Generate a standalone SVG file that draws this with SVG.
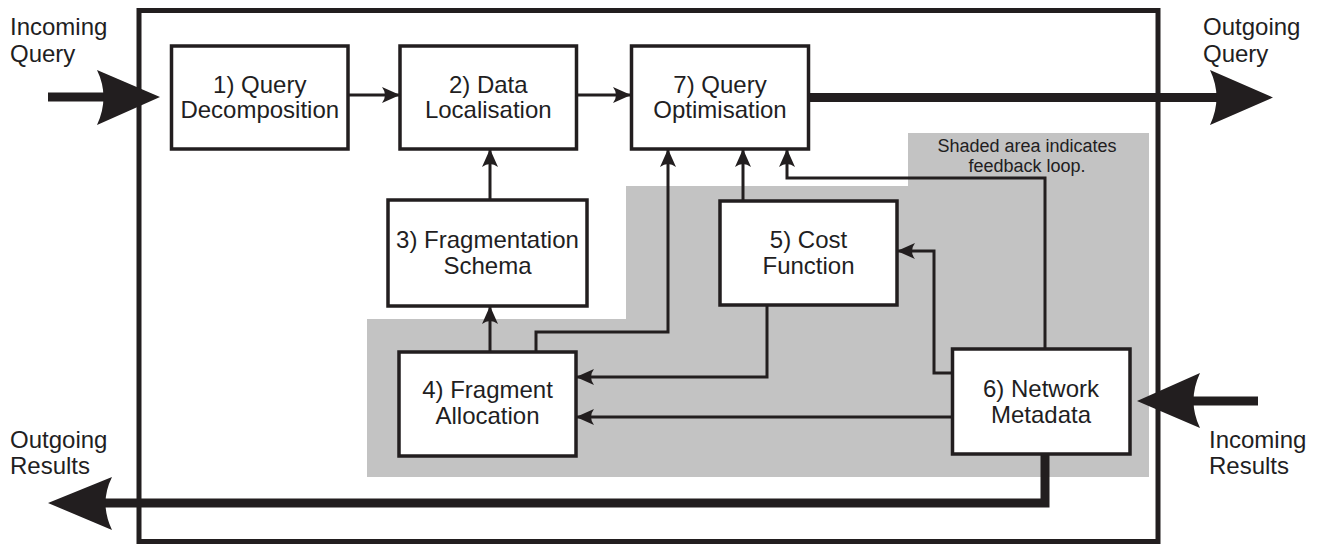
<svg xmlns="http://www.w3.org/2000/svg" width="1323" height="547" viewBox="0 0 1323 547">
<style>
.box{fill:#fff;stroke:#221e1f;stroke-width:3.5}
.ln{fill:none;stroke:#221e1f;stroke-width:3;stroke-linejoin:miter}
.thick{fill:none;stroke:#221e1f;stroke-width:9;stroke-linejoin:miter}
.big{fill:#221e1f;stroke:none}
text{font-family:"Liberation Sans",Arial,Helvetica,sans-serif;fill:#221e1f}
.t{font-size:24px;text-anchor:middle}
.lab{font-size:24px}
.note{font-size:18px;text-anchor:middle}
</style>
<defs>
<marker id="ah" viewBox="-20 -10 22 20" refX="0" refY="0" markerWidth="22" markerHeight="20" markerUnits="userSpaceOnUse" orient="auto">
<path d="M0,0 L-18,-8 Q-12,0 -18,8 Z" fill="#221e1f"/>
</marker>
</defs>
<rect width="1323" height="547" fill="#fff"/>
<g id="shade">
<polygon points="367,319 626,319 626,186 908,186 908,133 1149,133 1149,477 367,477" fill="#c3c3c3"/>
<text class="note" x="1027" y="152">Shaded area indicates</text>
<text class="note" x="1027" y="172">feedback loop.</text>
</g>
<g id="frame">
<rect x="139" y="10.5" width="1019" height="531" fill="none" stroke="#221e1f" stroke-width="5"/>
</g>
<g id="connectors">
<path class="ln" d="M348,95 H400" marker-end="url(#ah)"/>
<path class="ln" d="M576,95 H631" marker-end="url(#ah)"/>
<path class="ln" d="M490,200 V149" marker-end="url(#ah)"/>
<path class="ln" d="M490,352 V306" marker-end="url(#ah)"/>
<path class="ln" d="M536,352 V332 H668 V149" marker-end="url(#ah)"/>
<path class="ln" d="M743,201 V149" marker-end="url(#ah)"/>
<path class="ln" d="M1045,349 V178 H787 V149" marker-end="url(#ah)"/>
<path class="ln" d="M767,305 V377 H576" marker-end="url(#ah)"/>
<path class="ln" d="M952,417 H576" marker-end="url(#ah)"/>
<path class="ln" d="M952,373 H934 V251 H897" marker-end="url(#ah)"/>
<path class="thick" d="M48,97 H130"/>
<path class="big" d="M160,97 L97,70 Q110,97 97,125 Z"/>
<path class="thick" d="M808,97.5 H1240"/>
<path class="big" d="M1273,97.5 L1210,70 Q1223,97.5 1210,125 Z"/>
<path class="thick" d="M1258,401 H1170"/>
<path class="big" d="M1137,401 L1200,373 Q1187,401 1200,428 Z"/>
<path class="thick" d="M1045,454 V503 H80"/>
<path class="big" d="M48,503 L112,477 Q99,503 112,530 Z"/>
</g>
<g id="n1">
<rect class="box" x="171.5" y="46" width="176.5" height="103"/>
<text class="t" x="259.75" y="93">1) Query</text>
<text class="t" x="259.75" y="118">Decomposition</text>
</g>
<g id="n2">
<rect class="box" x="400" y="46" width="176.5" height="103"/>
<text class="t" x="488.25" y="93">2) Data</text>
<text class="t" x="488.25" y="118">Localisation</text>
</g>
<g id="n7">
<rect class="box" x="631.5" y="46" width="177" height="103"/>
<text class="t" x="720" y="93">7) Query</text>
<text class="t" x="720" y="118">Optimisation</text>
</g>
<g id="n3">
<rect class="box" x="388" y="200" width="199" height="106"/>
<text class="t" x="487.5" y="248">3) Fragmentation</text>
<text class="t" x="487.5" y="274">Schema</text>
</g>
<g id="n5">
<rect class="box" x="720" y="201" width="177" height="104"/>
<text class="t" x="808.5" y="248">5) Cost</text>
<text class="t" x="808.5" y="274">Function</text>
</g>
<g id="n4">
<rect class="box" x="399" y="352" width="177" height="104"/>
<text class="t" x="487.5" y="398">4) Fragment</text>
<text class="t" x="487.5" y="424">Allocation</text>
</g>
<g id="n6">
<rect class="box" x="952.5" y="349" width="177.5" height="105"/>
<text class="t" x="1041" y="397">6) Network</text>
<text class="t" x="1041" y="423">Metadata</text>
</g>
<g id="labels">
<text class="lab" x="10" y="35">Incoming</text>
<text class="lab" x="10" y="62">Query</text>
<text class="lab" x="1203" y="35">Outgoing</text>
<text class="lab" x="1203" y="62">Query</text>
<text class="lab" x="10" y="448">Outgoing</text>
<text class="lab" x="10" y="474">Results</text>
<text class="lab" x="1209" y="448">Incoming</text>
<text class="lab" x="1209" y="474">Results</text>
</g>
</svg>
